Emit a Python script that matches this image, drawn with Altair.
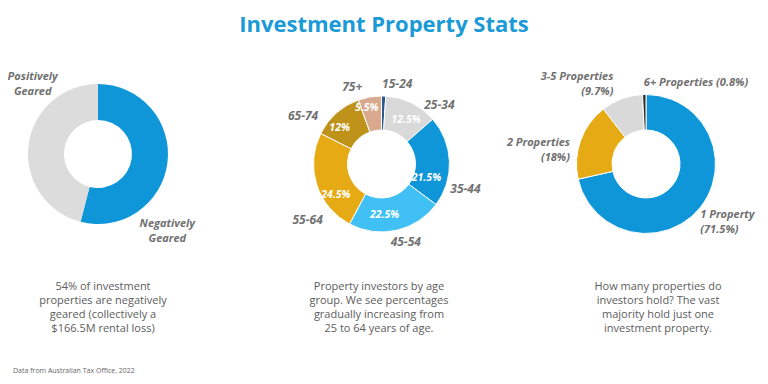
import altair as alt
import pandas as pd

# ---------------- data ----------------
title_text = "Investment Property Stats"

gearing_labels = ["Negatively Geared", "Positively Geared"]
gearing_values = [54, 46]
gearing_colors = ["#0e96d8", "#dcdcdc"]

age_groups = ["15-24", "25-34", "35-44", "45-54", "55-64", "65-74", "75+"]
age_values = [1.0, 12.5, 21.5, 22.5, 24.5, 12.0, 5.5]
age_colors = ["#285a91", "#d9d9d9", "#0f96d8", "#40c0f5", "#e6ab14", "#bf9219", "#d8a98d"]

holding_labels = ["1 Property", "2 Properties", "3-5 Properties", "6+ Properties"]
holding_values = [71.5, 18.0, 9.7, 0.8]
holding_colors = ["#0e96d8", "#e6ab14", "#d9d9d9", "#303030"]

captions = [
    "54% of investment\nproperties are negatively\ngeared (collectively a\n$166.5M rental loss)",
    "Property investors by age\ngroup. We see percentages\ngradually increasing from\n25 to 64 years of age.",
    "How many properties do\ninvestors hold?  The vast\nmajority hold just one\ninvestment  property.",
]
source_note = "Data from Australian Tax Office, 2022"

# ---------------- style ----------------
FONT = "Open Sans"
LABEL_GREY = "#707070"
W, H = 752, 368
R_IN = 34


def frame(labels, values, colors):
    return pd.DataFrame({"label": labels, "value": values, "color": colors,
                         "idx": list(range(len(labels)))})


gear_df = frame(gearing_labels, gearing_values, gearing_colors)
age_df = frame(age_groups, age_values, age_colors)
hold_df = frame(holding_labels, holding_values, holding_colors)


def donut(df, cx, cy, r_out, stroke_w):
    kw = dict(x=cx, y=cy, outerRadius=r_out, innerRadius=R_IN)
    if stroke_w > 0:
        kw.update(stroke="white", strokeWidth=stroke_w)
    return alt.Chart(df).mark_arc(**kw).encode(
        theta=alt.Theta("value:Q", stack=True),
        color=alt.Color("color:N", scale=None),
        order=alt.Order("idx:Q", sort="ascending"),
    )


def slice_label(df, name, cx, cy, radius, dx, dy, expr, align="center",
                size=11, color=LABEL_GREY, line_break="\n"):
    return (
        alt.Chart(df)
        .transform_joinaggregate(total="sum(value)")
        .transform_window(cum="sum(value)", sort=[alt.SortField("idx", order="ascending")],
                          frame=[None, 0])
        .transform_calculate(mid="(datum.cum - datum.value / 2) / datum.total", txt=expr)
        .transform_filter(alt.datum.label == name)
        .mark_text(x=cx, y=cy, radius=radius, dx=dx, dy=dy, align=align,
                   baseline="middle", font=FONT, fontSize=size, fontWeight="bold",
                   fontStyle="italic", color=color, lineBreak=line_break, lineHeight=15)
        .encode(theta=alt.Theta("mid:Q", stack=False, scale=alt.Scale(domain=[0, 1])),
                text="txt:N")
    )


layers = []

# Title
layers.append(
    alt.Chart(pd.DataFrame({"t": [title_text]})).mark_text(
        x=376, y=24, align="center", baseline="alphabetic", font=FONT,
        fontSize=22, fontWeight="bold", color="#1a9ad6").encode(text="t:N")
)

# ---- Donut 1: gearing ----
C1 = (90, 146)
layers.append(donut(gear_df, C1[0], C1[1], 70, 0))
d1_nudge = {"Negatively Geared": (-15, 59), "Positively Geared": (19, -66)}
for name, (dx, dy) in d1_nudge.items():
    layers.append(slice_label(gear_df, name, C1[0], C1[1], 85, dx, dy, "datum.label",
                              line_break=" "))

# ---- Donut 2: age groups ----
C2 = (373.5, 156)
layers.append(donut(age_df, C2[0], C2[1], 68, 1))
d2_outer = {"15-24": (13, 8), "25-34": (19, 20), "35-44": (-4, 28), "45-54": (5, -8),
            "55-64": (10, 29), "65-74": (-20, 18), "75+": (-14, 10)}
for name, (dx, dy) in d2_outer.items():
    layers.append(slice_label(age_df, name, C2[0], C2[1], 88, dx, dy, "datum.label", size=12))
d2_inner = {"25-34": (2, 2), "35-44": (-6, 16), "45-54": (-8, 1), "55-64": (3, 16),
            "65-74": (-8, 2), "75+": (-6, -6)}
for name, (dx, dy) in d2_inner.items():
    layers.append(slice_label(age_df, name, C2[0], C2[1], 51, dx, dy,
                              "format(datum.value, '.1~f') + '%'", size=10.5, color="white"))

# ---- Donut 3: holdings ----
C3 = (638, 156)
layers.append(donut(hold_df, C3[0], C3[1], 69.5, 1))
two_line = "datum.label + '\\n(' + format(datum.value, '.1~f') + '%)'"
one_line = "datum.label + ' (' + format(datum.value, '.1~f') + '%)'"
d3_specs = [
    ("1 Property", -12, -2, "left", two_line),
    ("2 Properties", 4, 8, "right", two_line),
    ("3-5 Properties", -3, -7, "right", two_line),
    ("6+ Properties", 0, 4, "left", one_line),
]
for name, dx, dy, al, ex in d3_specs:
    layers.append(slice_label(hold_df, name, C3[0], C3[1], 85, dx, dy, ex, align=al))

# ---- captions ----
for cap, cx in zip(captions, [95, 371, 650]):
    layers.append(
        alt.Chart(pd.DataFrame({"c": [cap]})).mark_text(
            x=cx, y=279, align="center", baseline="middle", font=FONT, fontSize=11,
            color="#5c5c5c", lineBreak="\n", lineHeight=14).encode(text="c:N")
    )

# ---- source note ----
layers.append(
    alt.Chart(pd.DataFrame({"s": [source_note]})).mark_text(
        x=5, y=365, align="left", baseline="alphabetic", font=FONT, fontSize=7,
        color="#666666").encode(text="s:N")
)

chart = (
    alt.layer(*layers)
    .resolve_scale(theta="independent", color="independent")
    .properties(width=W, height=H, autosize=alt.AutoSizeParams(type="none"), padding=0,
                background="white")
    .configure_view(stroke=None)
)

chart.save("out.html", embed_options={"renderer": "svg", "actions": False})
